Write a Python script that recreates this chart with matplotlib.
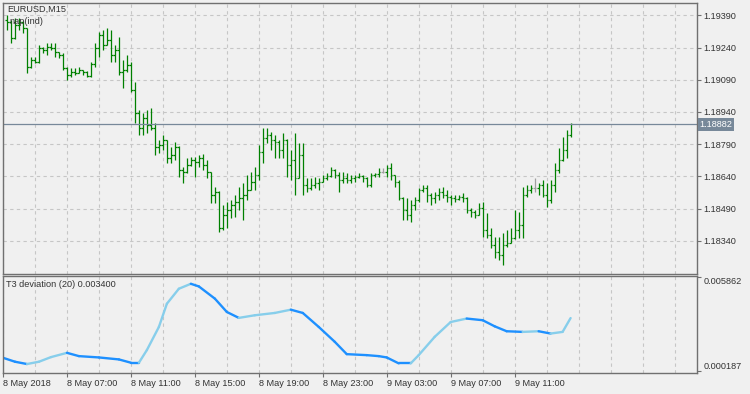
import numpy as np
import matplotlib.pyplot as plt
from matplotlib.collections import LineCollection

# EURUSD M15 bars, 8 May 03:15 .. 9 May 14:30 (open of each bar = previous close)
first_open = 1.19368
highs = [
    1.19391, 1.19368, 1.19377, 1.19377, 1.19362, 1.19331, 1.19196, 1.19196, 1.19252, 1.19242,
    1.19261, 1.19261, 1.19261, 1.19219, 1.19214, 1.19149, 1.19145, 1.19145, 1.19149, 1.19135,
    1.19130, 1.19173, 1.19261, 1.19312, 1.19321, 1.19331, 1.19321, 1.19252, 1.19289, 1.19182,
    1.19205, 1.19173, 1.19080, 1.18949, 1.18935, 1.18949, 1.18959, 1.18889, 1.18810, 1.18833,
    1.18810, 1.18777, 1.18801, 1.18780, 1.18684, 1.18726, 1.18731, 1.18731, 1.18740, 1.18745,
    1.18717, 1.18661, 1.18591, 1.18570, 1.18508, 1.18522, 1.18531, 1.18554, 1.18591, 1.18610,
    1.18647, 1.18661, 1.18684, 1.18787, 1.18866, 1.18866, 1.18847, 1.18833, 1.18810, 1.18842,
    1.18815, 1.18763, 1.18842, 1.18796, 1.18796, 1.18633, 1.18633, 1.18638, 1.18633, 1.18647,
    1.18656, 1.18684, 1.18675, 1.18661, 1.18661, 1.18656, 1.18647, 1.18647, 1.18656, 1.18647,
    1.18638, 1.18656, 1.18656, 1.18680, 1.18680, 1.18694, 1.18703, 1.18647, 1.18624, 1.18545,
    1.18540, 1.18531, 1.18545, 1.18587, 1.18601, 1.18601, 1.18564, 1.18568, 1.18587, 1.18591,
    1.18577, 1.18554, 1.18554, 1.18554, 1.18564, 1.18545, 1.18494, 1.18484, 1.18517, 1.18522,
    1.18471, 1.18401, 1.18359, 1.18359, 1.18378, 1.18391, 1.18401, 1.18484, 1.18475, 1.18591,
    1.18601, 1.18601, 1.18633, 1.18610, 1.18624, 1.18610, 1.18624, 1.18703, 1.18773, 1.18824,
    1.18856, 1.18889,
]
lows = [
    1.19321, 1.19261, 1.19280, 1.19321, 1.19307, 1.19121, 1.19145, 1.19168, 1.19168, 1.19214,
    1.19205, 1.19228, 1.19196, 1.19191, 1.19135, 1.19089, 1.19103, 1.19112, 1.19121, 1.19112,
    1.19103, 1.19103, 1.19149, 1.19196, 1.19228, 1.19252, 1.19173, 1.19173, 1.19112, 1.19052,
    1.19126, 1.19033, 1.18889, 1.18833, 1.18833, 1.18842, 1.18856, 1.18740, 1.18750, 1.18763,
    1.18703, 1.18703, 1.18717, 1.18638, 1.18610, 1.18656, 1.18690, 1.18638, 1.18684, 1.18670,
    1.18633, 1.18517, 1.18517, 1.18382, 1.18391, 1.18401, 1.18447, 1.18452, 1.18484, 1.18438,
    1.18531, 1.18577, 1.18577, 1.18624, 1.18703, 1.18796, 1.18763, 1.18726, 1.18726, 1.18726,
    1.18638, 1.18624, 1.18554, 1.18633, 1.18554, 1.18568, 1.18577, 1.18587, 1.18577, 1.18615,
    1.18624, 1.18638, 1.18633, 1.18568, 1.18610, 1.18610, 1.18610, 1.18615, 1.18633, 1.18615,
    1.18591, 1.18591, 1.18638, 1.18638, 1.18656, 1.18638, 1.18624, 1.18591, 1.18531, 1.18438,
    1.18438, 1.18429, 1.18484, 1.18522, 1.18568, 1.18522, 1.18508, 1.18517, 1.18531, 1.18540,
    1.18522, 1.18508, 1.18522, 1.18531, 1.18522, 1.18471, 1.18452, 1.18447, 1.18461, 1.18359,
    1.18354, 1.18308, 1.18261, 1.18252, 1.18229, 1.18312, 1.18331, 1.18350, 1.18354, 1.18354,
    1.18545, 1.18564, 1.18568, 1.18554, 1.18545, 1.18498, 1.18517, 1.18568, 1.18656, 1.18712,
    1.18726, 1.18824,
]
closes = [
    1.19359, 1.19284, 1.19345, 1.19359, 1.19331, 1.19149, 1.19182, 1.19173, 1.19238, 1.19228,
    1.19242, 1.19238, 1.19219, 1.19205, 1.19145, 1.19112, 1.19126, 1.19121, 1.19135, 1.19126,
    1.19108, 1.19163, 1.19238, 1.19298, 1.19252, 1.19275, 1.19205, 1.19228, 1.19126, 1.19135,
    1.19159, 1.19042, 1.18935, 1.18866, 1.18912, 1.18880, 1.18866, 1.18777, 1.18787, 1.18810,
    1.18726, 1.18740, 1.18777, 1.18670, 1.18661, 1.18694, 1.18717, 1.18708, 1.18726, 1.18694,
    1.18661, 1.18554, 1.18568, 1.18401, 1.18461, 1.18484, 1.18508, 1.18522, 1.18540, 1.18554,
    1.18577, 1.18615, 1.18647, 1.18754, 1.18819, 1.18833, 1.18810, 1.18801, 1.18763, 1.18810,
    1.18694, 1.18717, 1.18633, 1.18740, 1.18601, 1.18587, 1.18601, 1.18610, 1.18615, 1.18633,
    1.18643, 1.18670, 1.18647, 1.18624, 1.18633, 1.18624, 1.18633, 1.18638, 1.18643, 1.18633,
    1.18601, 1.18647, 1.18652, 1.18661, 1.18661, 1.18680, 1.18647, 1.18615, 1.18540, 1.18484,
    1.18461, 1.18508, 1.18531, 1.18577, 1.18587, 1.18554, 1.18540, 1.18554, 1.18568, 1.18554,
    1.18545, 1.18540, 1.18536, 1.18545, 1.18540, 1.18484, 1.18475, 1.18461, 1.18494, 1.18391,
    1.18368, 1.18322, 1.18289, 1.18275, 1.18322, 1.18331, 1.18354, 1.18391, 1.18415, 1.18554,
    1.18577, 1.18587, 1.18587, 1.18601, 1.18554, 1.18531, 1.18601, 1.18670, 1.18717, 1.18763,
    1.18833, 1.18882,
]

# T3 deviation (20), read at bar numbers
t3_bars = [-1, 2, 5, 8, 11, 15, 18, 23, 28, 31, 33, 35, 38, 40, 43, 46, 48, 52, 55, 58, 62,
           67, 71, 74, 78, 82, 85, 90, 93, 95, 98, 101, 103, 107, 111, 115, 119, 122, 125,
           129, 133, 136, 139, 141]
t3_values = [0.00099, 0.00075, 0.00061, 0.00075, 0.00103, 0.00129, 0.00109, 0.00101, 0.00089,
             0.00069, 0.00069, 0.00146, 0.00286, 0.00427, 0.00518, 0.00548, 0.00532, 0.00458,
             0.00377, 0.00341, 0.00357, 0.00371, 0.00391, 0.00371, 0.00286, 0.00196, 0.00121,
             0.00115, 0.00109, 0.00101, 0.00065, 0.00065, 0.00115, 0.00226, 0.00316, 0.00337,
             0.00327, 0.00290, 0.00260, 0.00256, 0.00260, 0.00246, 0.00256, 0.00340]

price_ticks = [1.19390, 1.19240, 1.19090, 1.18940, 1.18790, 1.18640, 1.18490, 1.18340]
time_labels = ['8 May 2018', '8 May 07:00', '8 May 11:00', '8 May 15:00', '8 May 19:00',
               '8 May 23:00', '9 May 03:00', '9 May 07:00', '9 May 11:00']
t3_scale = [0.000187, 0.005862]

plt.rcParams['font.family'] = ['Liberation Sans', 'DejaVu Sans']
bg = '#f0f0f0'
txt = '#333333'
edge = '#707070'
gridc = '#c6c6c6'
fs = 6.6

fig = plt.figure(figsize=(7.5, 3.94), dpi=100, facecolor=bg)
ax = fig.add_axes([3 / 750, 1 - 273.5 / 394, 694 / 750, 270.5 / 394], facecolor=bg)
ax2 = fig.add_axes([3 / 750, 1 - 373 / 394, 694 / 750, 97.5 / 394], facecolor=bg)

x = np.arange(len(closes))
opens = np.array([first_open] + closes[:-1])
closes_a = np.array(closes)
cols = np.where(np.isclose(opens, closes_a), '#a0a0a0', '#008000')
ax.vlines(x, lows, highs, colors=cols, lw=0.9)
ax.hlines(opens, x - 0.42, x, colors=cols, lw=0.9)
ax.hlines(closes_a, x, x + 0.42, colors=cols, lw=0.9)

last = closes[-1]
ax.axhline(last, color='#778899', lw=0.9)
ax.text(1.004, last, f'{last:.5f}', transform=ax.get_yaxis_transform(), color='white',
        fontsize=fs, va='center', ha='left',
        bbox=dict(boxstyle='square,pad=0.2', fc='#778899', ec='none'))

xlim = (-0.875, 172.625)
grid_x = np.arange(-1, 175, 8)
label_x = np.arange(-1, 130, 16)

for a in (ax, ax2):
    a.set_xlim(*xlim)
    a.set_xticks(label_x)
    a.set_xticks(grid_x, minor=True)
    a.grid(True, which='both', axis='x', color=gridc, ls=(0, (3, 3)), lw=0.8)
    a.set_axisbelow(True)
    for s in a.spines.values():
        s.set_color(edge)
        s.set_linewidth(1.0)
    a.yaxis.tick_right()
    a.tick_params(axis='y', direction='out', length=3, width=0.8, color=edge,
                  labelcolor=txt, labelsize=fs, pad=1.5)
    a.tick_params(axis='x', which='minor', length=0)

ax.set_ylim(1.181879, 1.194472)
ax.set_yticks(price_ticks)
ax.set_yticklabels([f'{p:.5f}' for p in price_ticks])
ax.grid(True, axis='y', color=gridc, ls=(0, (3, 3)), lw=0.8)
ax.tick_params(axis='x', which='major', length=0, labelbottom=False)

# indicator window, light where rising, dark where falling
pts = np.column_stack([t3_bars, t3_values])
segs = np.stack([pts[:-1], pts[1:]], axis=1)
seg_cols = ['#87ceeb' if b > a else '#1e90ff' for a, b in zip(t3_values[:-1], t3_values[1:])]
ax2.add_collection(LineCollection(segs, colors=seg_cols, lw=1.7, capstyle='round',
                                  joinstyle='round'))
ax2.set_ylim(0.000066, 0.005983)
ax2.set_yticks(t3_scale)
ax2.set_yticklabels([f'{v:.6f}' for v in t3_scale])
labs = ax2.get_yticklabels()
labs[0].set_va('bottom')
labs[1].set_va('top')
ax2.set_xticklabels(time_labels, ha='left')
ax2.tick_params(axis='x', which='major', direction='out', length=3, width=0.8, color=edge,
                labelcolor=txt, labelsize=fs, pad=1.5)

fig.text(7 / 750, 1 - 9.5 / 394, 'EURUSD,M15', fontsize=fs, color=txt, va='center')
fig.text(9 / 750, 1 - 21 / 394, 'nap(ind)', fontsize=fs, color=txt, va='center')
fig.text(6 / 750, 1 - 284.5 / 394, 'T3 deviation (20) 0.003400', fontsize=fs, color=txt,
         va='center')

fig.savefig('out.png', dpi=100, facecolor=bg)
